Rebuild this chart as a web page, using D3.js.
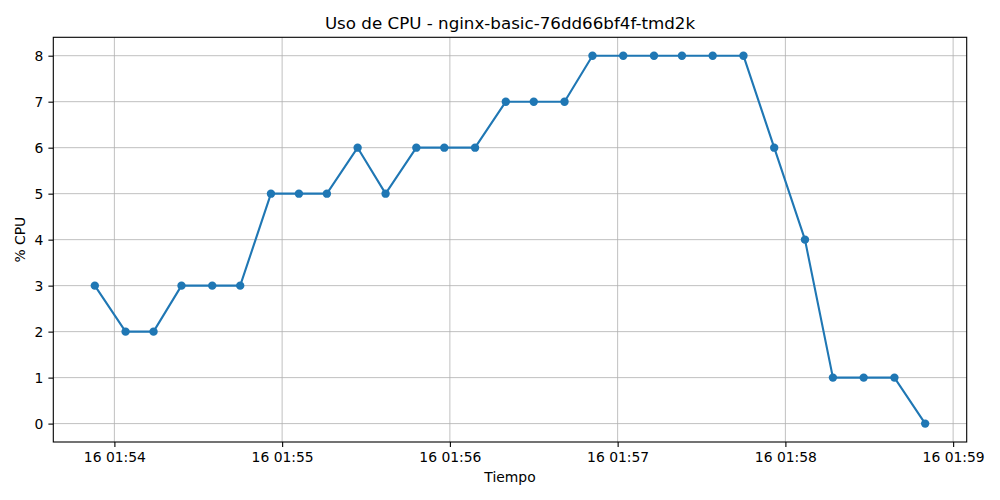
<!DOCTYPE html>
<html>
<head>
<meta charset="utf-8">
<script src="https://cdn.jsdelivr.net/npm/d3@7"></script>
<style>
  body { margin: 0; background: #fff; }
  svg { display: block; font-family: "DejaVu Sans", sans-serif; }
</style>
</head>
<body>
<svg id="chart" width="1000" height="500"></svg>
<script>
// timestamps (HH:MM:SS on the 16th) and CPU values
const times = [
    "01:53:53", "01:54:04", "01:54:14", "01:54:24", "01:54:35", "01:54:45",
    "01:54:56", "01:55:06", "01:55:16", "01:55:27", "01:55:37", "01:55:48",
    "01:55:58", "01:56:09", "01:56:20", "01:56:30", "01:56:41", "01:56:51",
    "01:57:02", "01:57:13", "01:57:23", "01:57:34", "01:57:45", "01:57:56",
    "01:58:07", "01:58:17", "01:58:28", "01:58:39", "01:58:50"
];
const cpu = [3, 2, 2, 3, 3, 3, 5, 5, 5, 6, 5, 6, 6, 6, 7, 7, 7, 8, 8, 8, 8, 8, 8, 6, 4, 1, 1, 1, 0];
const yTicks = [0, 1, 2, 3, 4, 5, 6, 7, 8];
const xTickTimes = ["01:54", "01:55", "01:56", "01:57", "01:58", "01:59"];

const title = "Uso de CPU - nginx-basic-76dd66bf4f-tmd2k";
const xLabel = "Tiempo";
const yLabel = "% CPU";

const parseTime = d3.timeParse("%Y-%m-%d %H:%M:%S");
const data = times.map((t, i) => ({ date: parseTime("2025-06-16 " + t), value: cpu[i] }));
const xTicks = xTickTimes.map(t => parseTime("2025-06-16 " + t + ":00"));

const width = 1000, height = 500;
const margin = { top: 37.3, right: 33.3, bottom: 58, left: 53.3 };
const color = "#1f77b4";

const svg = d3.select("#chart");

// matplotlib style 5% padding on both axes
const xExt = d3.extent(data, d => d.date);
const xPad = (xExt[1] - xExt[0]) * 0.05;
const xScale = d3.scaleTime()
    .domain([new Date(+xExt[0] - xPad), new Date(+xExt[1] + xPad)])
    .range([margin.left, width - margin.right]);

const yExt = d3.extent(data, d => d.value);
const yPad = (yExt[1] - yExt[0]) * 0.05;
const yScale = d3.scaleLinear()
    .domain([yExt[0] - yPad, yExt[1] + yPad])
    .range([height - margin.bottom, margin.top]);

const plotW = width - margin.left - margin.right;
const plotH = height - margin.top - margin.bottom;

// grid
svg.append("g")
    .selectAll("line")
    .data(xTicks)
    .enter().append("line")
    .attr("x1", d => xScale(d)).attr("x2", d => xScale(d))
    .attr("y1", margin.top).attr("y2", height - margin.bottom)
    .attr("stroke", "#b0b0b0").attr("stroke-width", 0.8);

svg.append("g")
    .selectAll("line")
    .data(yTicks)
    .enter().append("line")
    .attr("x1", margin.left).attr("x2", width - margin.right)
    .attr("y1", d => yScale(d)).attr("y2", d => yScale(d))
    .attr("stroke", "#b0b0b0").attr("stroke-width", 0.8);

// x axis
const xAxis = d3.axisBottom(xScale)
    .tickValues(xTicks)
    .tickFormat(d3.timeFormat("%d %H:%M"))
    .tickSizeInner(4.9)
    .tickSizeOuter(0)
    .tickPadding(5);

const gx = svg.append("g")
    .attr("transform", `translate(0,${height - margin.bottom})`)
    .call(xAxis);
gx.select(".domain").remove();
gx.selectAll("line").attr("stroke", "#000").attr("stroke-width", 1.1);
gx.selectAll("text")
    .attr("font-family", "DejaVu Sans")
    .attr("font-size", "13.9px")
    .attr("fill", "#000")
    .attr("dy", "0.72em");

// y axis
const yAxis = d3.axisLeft(yScale)
    .tickValues(yTicks)
    .tickSizeInner(4.9)
    .tickSizeOuter(0)
    .tickPadding(5);

const gy = svg.append("g")
    .attr("transform", `translate(${margin.left},0)`)
    .call(yAxis);
gy.select(".domain").remove();
gy.selectAll("line").attr("stroke", "#000").attr("stroke-width", 1.1);
gy.selectAll("text")
    .attr("font-family", "DejaVu Sans")
    .attr("font-size", "13.9px")
    .attr("fill", "#000");

// line + markers
const line = d3.line()
    .x(d => xScale(d.date))
    .y(d => yScale(d.value));

svg.append("path")
    .datum(data)
    .attr("fill", "none")
    .attr("stroke", color)
    .attr("stroke-width", 2.1)
    .attr("stroke-linejoin", "round")
    .attr("d", line);

svg.selectAll(".dot")
    .data(data)
    .enter().append("circle")
    .attr("class", "dot")
    .attr("cx", d => xScale(d.date))
    .attr("cy", d => yScale(d.value))
    .attr("r", 4.2)
    .attr("fill", color);

// frame
svg.append("rect")
    .attr("x", margin.left).attr("y", margin.top)
    .attr("width", plotW).attr("height", plotH)
    .attr("fill", "none")
    .attr("stroke", "#000")
    .attr("stroke-width", 1.1);

// labels
svg.append("text")
    .attr("x", margin.left + plotW / 2)
    .attr("y", 29)
    .attr("text-anchor", "middle")
    .attr("font-size", "16.7px")
    .text(title);

svg.append("text")
    .attr("x", margin.left + plotW / 2)
    .attr("y", 482)
    .attr("text-anchor", "middle")
    .attr("font-size", "13.9px")
    .text(xLabel);

svg.append("text")
    .attr("transform", `translate(25,${margin.top + plotH / 2}) rotate(-90)`)
    .attr("text-anchor", "middle")
    .attr("font-size", "13.9px")
    .text(yLabel);
</script>
</body>
</html>
